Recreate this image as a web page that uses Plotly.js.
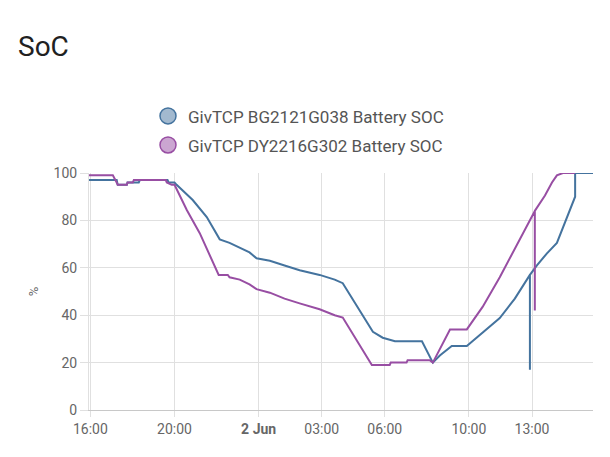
<!DOCTYPE html>
<html>
<head>
<meta charset="utf-8">
<script src="https://cdn.plot.ly/plotly-3.0.1.min.js"></script>
<style>
html,body{margin:0;padding:0;background:#fff;}
#chart{width:610px;height:457px;}
</style>
</head>
<body>
<div id="chart"></div>
<script>
// Series names
const seriesNames = ['GivTCP BG2121G038 Battery SOC', 'GivTCP DY2216G302 Battery SOC'];

// Blue series (BG2121G038)
const blueTimes = [
  '2023-06-01 15:56','2023-06-01 17:15','2023-06-01 17:18','2023-06-01 17:44','2023-06-01 17:46',
  '2023-06-01 18:18','2023-06-01 18:21','2023-06-01 19:40','2023-06-01 19:43','2023-06-01 20:00',
  '2023-06-01 20:06','2023-06-01 20:52','2023-06-01 21:32','2023-06-01 22:09','2023-06-01 22:37',
  '2023-06-01 23:06','2023-06-01 23:34','2023-06-01 23:54','2023-06-02 00:32','2023-06-02 01:14',
  '2023-06-02 01:57','2023-06-02 02:54','2023-06-02 03:37','2023-06-02 04:00','2023-06-02 04:43',
  '2023-06-02 05:26','2023-06-02 05:54','2023-06-02 06:29','2023-06-02 07:46','2023-06-02 08:17',
  '2023-06-02 08:37','2023-06-02 09:11','2023-06-02 09:54','2023-06-02 10:31','2023-06-02 11:28',
  '2023-06-02 12:11','2023-06-02 12:54','2023-06-02 12:54','2023-06-02 12:54','2023-06-02 13:14',
  '2023-06-02 13:42','2023-06-02 14:11','2023-06-02 14:34','2023-06-02 15:03','2023-06-02 15:03',
  '2023-06-02 15:54'
];
const blueValues = [
  97,97,95,95,96,
  96,97,97,96,96,
  95,88.6,81.4,72,70.5,
  68.5,66.5,64,63,61,
  59,57,55,53.5,43.5,
  33,30.5,29,29,20,
  23,27,27,31.5,38.8,
  47,57,17,57,61,
  66,70.5,79,90,100,
  100
];

// Purple series (DY2216G302)
const purpleTimes = [
  '2023-06-01 15:56','2023-06-01 17:04','2023-06-01 17:15','2023-06-01 17:18','2023-06-01 17:44',
  '2023-06-01 17:46','2023-06-01 18:01','2023-06-01 18:04','2023-06-01 19:35','2023-06-01 19:38',
  '2023-06-01 19:52','2023-06-01 20:00','2023-06-01 20:35','2023-06-01 21:12','2023-06-01 22:06',
  '2023-06-01 22:32','2023-06-01 22:37','2023-06-01 23:06','2023-06-01 23:34','2023-06-01 23:54',
  '2023-06-02 00:32','2023-06-02 01:14','2023-06-02 01:57','2023-06-02 02:54','2023-06-02 03:37',
  '2023-06-02 04:00','2023-06-02 05:23','2023-06-02 06:14','2023-06-02 06:17','2023-06-02 07:02',
  '2023-06-02 07:05','2023-06-02 08:08','2023-06-02 08:17','2023-06-02 09:06','2023-06-02 09:54',
  '2023-06-02 10:39','2023-06-02 11:28','2023-06-02 12:11','2023-06-02 12:54','2023-06-02 13:08',
  '2023-06-02 13:08','2023-06-02 13:08','2023-06-02 13:37','2023-06-02 13:57','2023-06-02 14:11',
  '2023-06-02 14:28','2023-06-02 15:03'
];
const purpleValues = [
  99,99,96,95,95,
  96,96,97,97,96,
  95,95,84.4,74.6,57,
  57,56,55,53,51,
  49.5,47,45,42.5,40,
  39,19,19,20,20,
  21,21,20,34,34,
  43.5,56,68,80,84,
  42,84,90.5,96,99,
  100,100
];

// Axis ticks
const xTickVals = ['2023-06-01 16:00','2023-06-01 20:00','2023-06-02 00:00','2023-06-02 03:00','2023-06-02 06:00','2023-06-02 10:00','2023-06-02 13:00'];
const xTickText = ['16:00','20:00','<b>2 Jun</b>','03:00','06:00','10:00','13:00'];
const yTickVals = [0,20,40,60,80,100];

const lineColors = ['#44739e', '#984ea3'];
const fillColors = ['#a2b9cf', '#cba6d1'];

const traces = [
  {x: blueTimes, y: blueValues, mode:'lines', line:{color:lineColors[0], width:2}, showlegend:false, hoverinfo:'skip'},
  {x: purpleTimes, y: purpleValues, mode:'lines', line:{color:lineColors[1], width:2}, showlegend:false, hoverinfo:'skip'},
  {x:[null], y:[null], mode:'markers', name: seriesNames[0], legendgroup:'a', marker:{size:16, color:fillColors[0], line:{color:lineColors[0], width:1.5}}},
  {x:[null], y:[null], mode:'markers', name: seriesNames[1], legendgroup:'b', marker:{size:16, color:fillColors[1], line:{color:lineColors[1], width:1.5}}}
];

const layout = {
  width:610, height:457,
  margin:{l:89, r:17, t:173, b:47},
  paper_bgcolor:'#fff', plot_bgcolor:'#fff',
  font:{family:'Roboto, sans-serif', color:'#666', size:14},
  title:{text:'SoC', x:18/610, xref:'container', xanchor:'left', y:1-46/457, yref:'container', yanchor:'middle',
         font:{family:'Roboto, sans-serif', size:28, color:'#212121'}},
  showlegend:true,
  legend:{orientation:'v', x:(148-89)/504, xanchor:'left', y:1.315, yanchor:'top', font:{size:17, color:'#555'},
          itemsizing:'trace', tracegroupgap:4, bgcolor:'rgba(0,0,0,0)'},
  xaxis:{type:'date', range:['2023-06-01 15:56','2023-06-02 15:54'], tickmode:'array', tickvals:xTickVals, ticktext:xTickText,
         showgrid:true, gridcolor:'#e0e0e0', ticks:'outside', ticklen:6, tickcolor:'#e0e0e0',
         showline:true, linecolor:'#c8c8c8', zeroline:false, tickfont:{size:14, color:'#666'}, fixedrange:true},
  yaxis:{range:[0,100], tickvals:yTickVals, showgrid:true, gridcolor:'#e0e0e0', ticks:'outside', ticklen:8, tickcolor:'#e0e0e0',
         showline:true, linecolor:'#e0e0e0', zeroline:false, tickfont:{size:14, color:'#666'},
         title:{text:'%', font:{size:13, color:'#666'}, standoff:12}, fixedrange:true}
};

Plotly.newPlot('chart', traces, layout, {displayModeBar:false, staticPlot:true});
</script>
</body>
</html>
